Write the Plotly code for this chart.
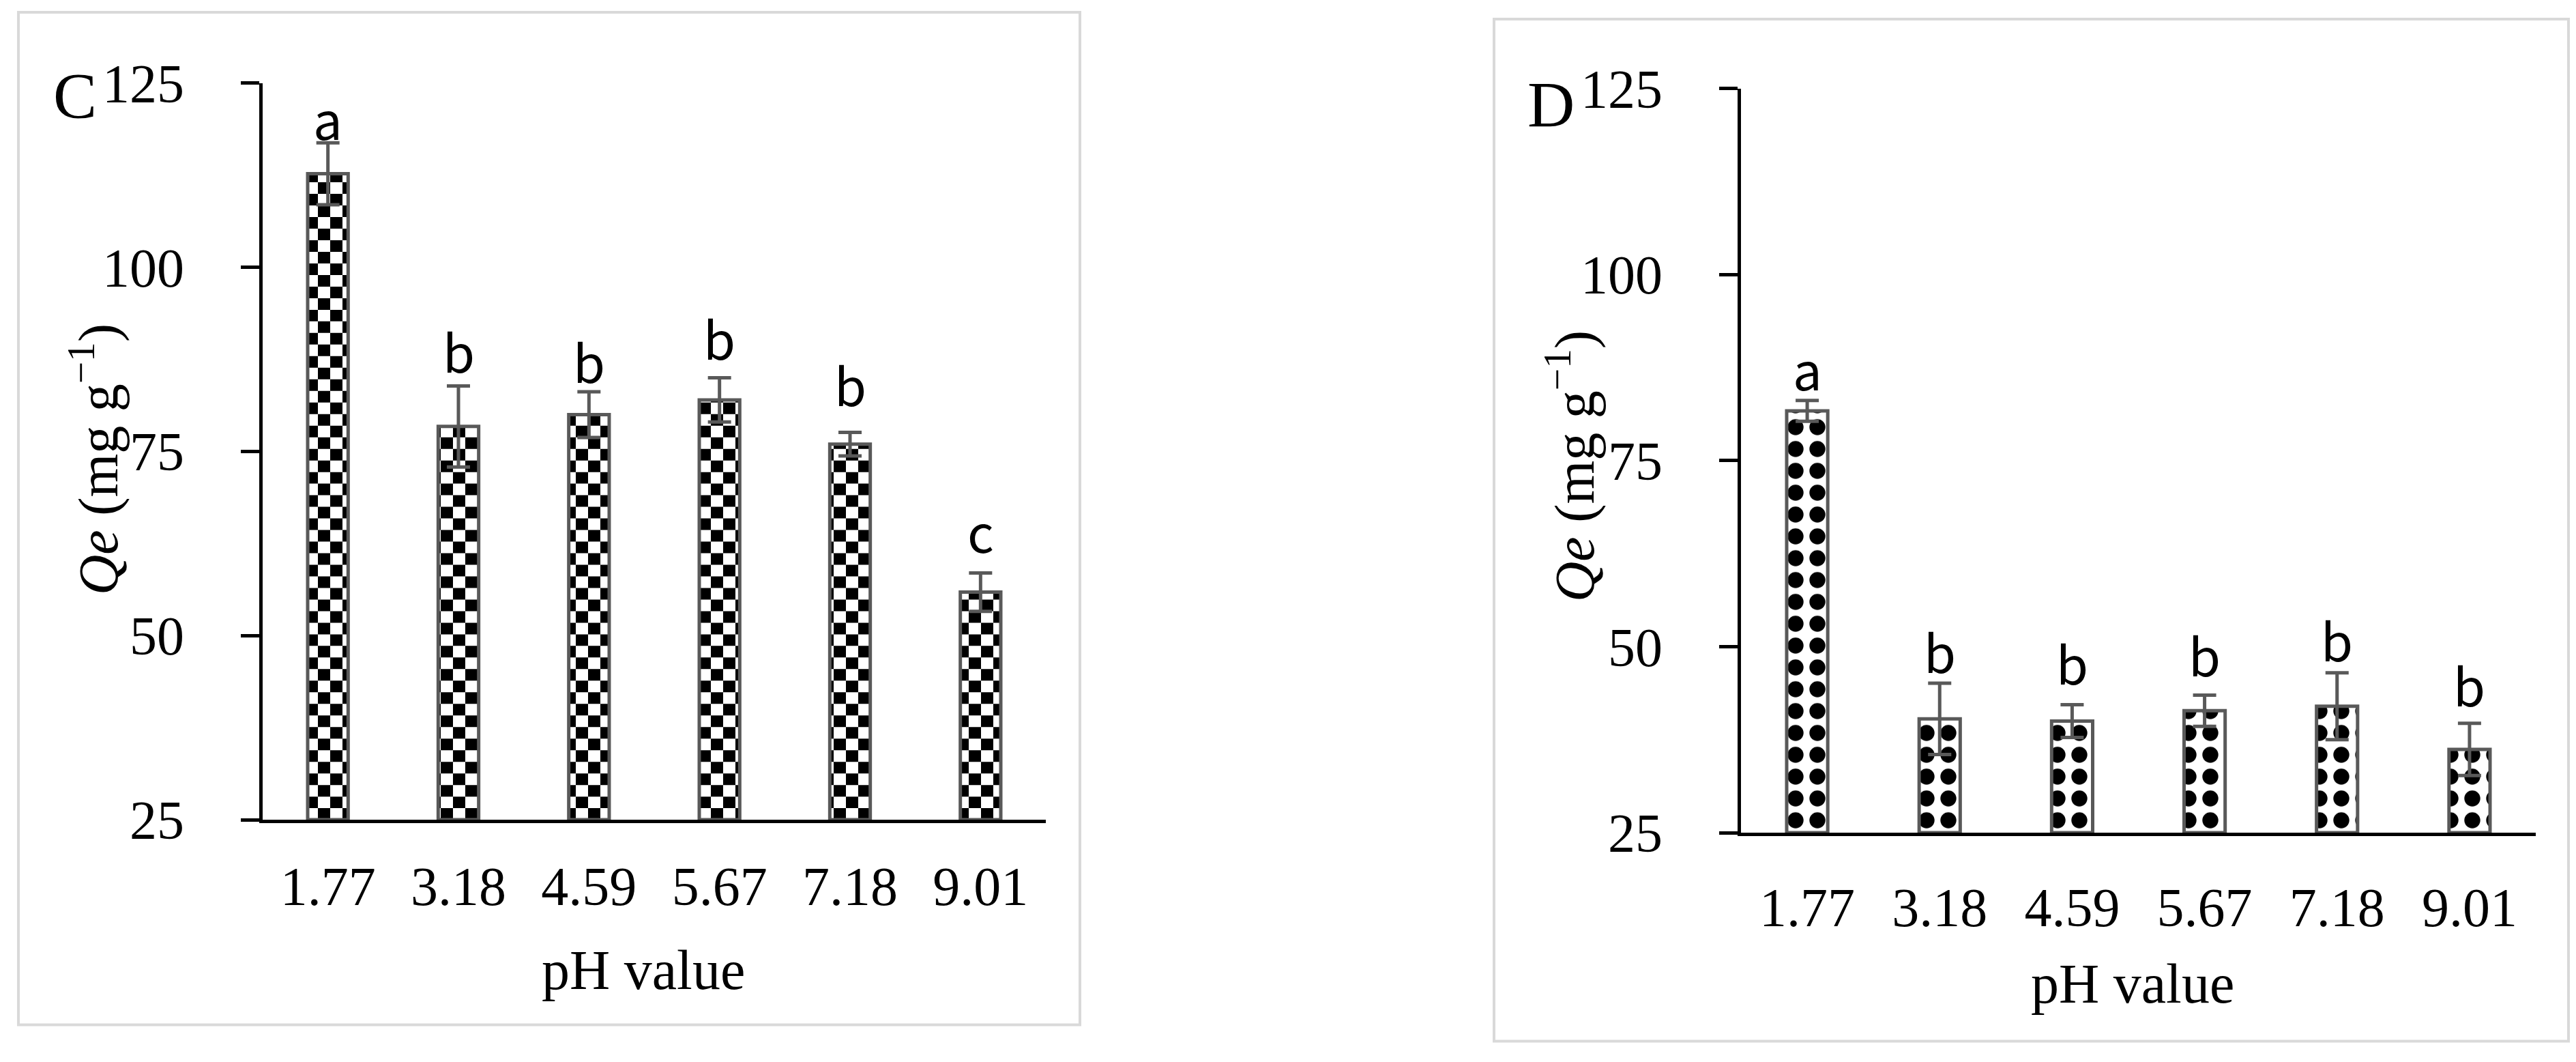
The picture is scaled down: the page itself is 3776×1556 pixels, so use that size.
import plotly.graph_objects as go

# ---------------- data ----------------
ph_labels = ["1.77", "3.18", "4.59", "5.67", "7.18", "9.01"]

qe_c = [112.7, 78.4, 80.0, 82.0, 76.0, 55.9]
err_c = [4.2, 5.5, 3.1, 3.0, 1.6, 2.6]
letters_c = ["a", "b", "b", "b", "b", "c"]
letters_c_y = [120.4, 88.8, 87.4, 90.5, 84.2, 64.3]

qe_d = [81.7, 40.3, 40.0, 41.4, 42.0, 36.2]
err_d = [1.4, 4.8, 2.2, 2.1, 4.5, 3.5]
letters_d = ["a", "b", "b", "b", "b", "b"]
letters_d_y = [87.5, 49.5, 47.9, 49.0, 51.1, 45.0]

y_ticks = [25, 50, 75, 100, 125]
y_min, y_max = 25, 125

# ---------------- layout constants ----------------
W, H = 3776, 1556
SERIF = "Liberation Serif"
SANS = "Noto Sans CJK KR"
GRAY = "#595959"
V_OFF, V_SC = 57.0, 0.945   # empirical vertical placement correction


def px(x):
    return x / W


def py(y):
    return 1 - ((y - V_OFF) / V_SC) / H


dom_c_x = [px(377), px(1525)]
dom_c_y = [py(1209), py(128)]
dom_d_x = [px(2544), px(3709)]
dom_d_y = [py(1228), py(136)]

bar_w = 0.31
sq = 18  # checker square size in px
n = len(ph_labels)
idx = list(range(n))

fig = go.Figure()

# ---- panel C: checkerboard bars built from vertical-stripe pattern traces ----
px_per_unit_c = (dom_c_y[1] - dom_c_y[0]) * H / (y_max - y_min)
h_units = sq / px_per_unit_c

xa, ya, ba = [], [], []
xb, yb, bb = [], [], []
for i, v in zip(idx, qe_c):
    xa.append(i); ba.append(y_min); ya.append(v - y_min)
    lo, k = y_min, 0
    while lo < v - 1e-9:
        hi = min(lo + h_units, v)
        if k % 2 == 1:
            xb.append(i); bb.append(lo); yb.append(hi - lo)
        lo, k = hi, k + 1

fig.add_trace(go.Bar(
    x=xa, y=ya, base=ba, width=bar_w, xaxis="x", yaxis="y",
    marker=dict(color="white", line=dict(width=0),
                pattern=dict(shape="|", size=2 * sq, solidity=0.5,
                             fgcolor="black", bgcolor="white", fillmode="replace")),
    hoverinfo="skip", showlegend=False))
fig.add_trace(go.Bar(
    x=xb, y=yb, base=bb, width=bar_w, xaxis="x", yaxis="y",
    marker=dict(color="black", line=dict(width=0),
                pattern=dict(shape="|", size=2 * sq, solidity=0.5,
                             fgcolor="white", bgcolor="black", fillmode="replace")),
    hoverinfo="skip", showlegend=False))
# outline + error bars for C
fig.add_trace(go.Bar(
    x=idx, y=[v - y_min for v in qe_c], base=[y_min] * n, width=bar_w,
    xaxis="x", yaxis="y",
    marker=dict(color="rgba(0,0,0,0)", line=dict(color=GRAY, width=5)),
    error_y=dict(type="data", array=err_c, visible=True, color=GRAY, thickness=5, width=17),
    showlegend=False))

# ---- panel D: dotted bars ----
fig.add_trace(go.Bar(
    x=idx, y=[v - y_min for v in qe_d], base=[y_min] * n, width=bar_w,
    xaxis="x2", yaxis="y2",
    marker=dict(color="white", line=dict(color=GRAY, width=5),
                pattern=dict(shape=".", size=32, solidity=0.42,
                             fgcolor="black", bgcolor="white", fillmode="replace")),
    error_y=dict(type="data", array=err_d, visible=True, color=GRAY, thickness=5, width=17),
    showlegend=False))

axis_common_y = dict(range=[y_min, y_max], tickvals=y_ticks, showline=True, linecolor="black",
                     linewidth=5, ticks="outside", ticklen=27, tickwidth=5, tickcolor="black",
                     showgrid=False, zeroline=False, ticklabelstandoff=67,
                     tickfont=dict(family=SERIF, size=80, color="black"))
axis_common_x = dict(range=[-0.5, n - 0.5], tickvals=idx, ticktext=ph_labels, tickangle=0,
                     showline=True, linecolor="black", linewidth=5,
                     ticks="", showgrid=False, zeroline=False,
                     tickfont=dict(family=SERIF, size=80, color="black"))

annotations = []
for i, t, yv in zip(idx, letters_c, letters_c_y):
    annotations.append(dict(x=i, y=yv, xref="x", yref="y", text=t, showarrow=False,
                            font=dict(family=SANS, size=76, color="black"), yanchor="middle"))
for i, t, yv in zip(idx, letters_d, letters_d_y):
    annotations.append(dict(x=i, y=yv, xref="x2", yref="y2", text=t, showarrow=False,
                            font=dict(family=SANS, size=76, color="black"), yanchor="middle"))

ytitle = "<i>Qe</i> (mg g<sup>−1</sup>)"
for (xx, yy, txt, size, ang) in [
    (102, 147, "C", 96, 0), (2265, 160, "D", 96, 0),
    (131, 680, ytitle, 82, -90), (2295, 690, ytitle, 82, -90),
    (935, 1430, "pH value", 82, 0), (3118, 1450, "pH value", 82, 0),
]:
    annotations.append(dict(x=px(xx), y=py(yy), xref="paper", yref="paper", text=txt,
                            showarrow=False, textangle=ang, xanchor="center", yanchor="middle",
                            font=dict(family=SERIF, size=size, color="black")))

shapes = [
    dict(type="rect", xref="paper", yref="paper", x0=px(19), x1=px(1575), y0=py(1510), y1=py(24),
         line=dict(color="#d9d9d9", width=4), layer="below"),
    dict(type="rect", xref="paper", yref="paper", x0=px(2182), x1=px(3757), y0=py(1534), y1=py(34),
         line=dict(color="#d9d9d9", width=4), layer="below"),
]

fig.update_layout(
    width=W, height=H, margin=dict(l=0, r=0, t=0, b=0),
    paper_bgcolor="white", plot_bgcolor="white",
    barmode="overlay", showlegend=False,
    xaxis=dict(domain=dom_c_x, anchor="y", ticklabelstandoff=24, **axis_common_x),
    yaxis=dict(domain=dom_c_y, anchor="x", **axis_common_y),
    xaxis2=dict(domain=dom_d_x, anchor="y2", ticklabelstandoff=36, **axis_common_x),
    yaxis2=dict(domain=dom_d_y, anchor="x2", **axis_common_y),
    annotations=annotations, shapes=shapes,
)

fig.write_html("out.html")
